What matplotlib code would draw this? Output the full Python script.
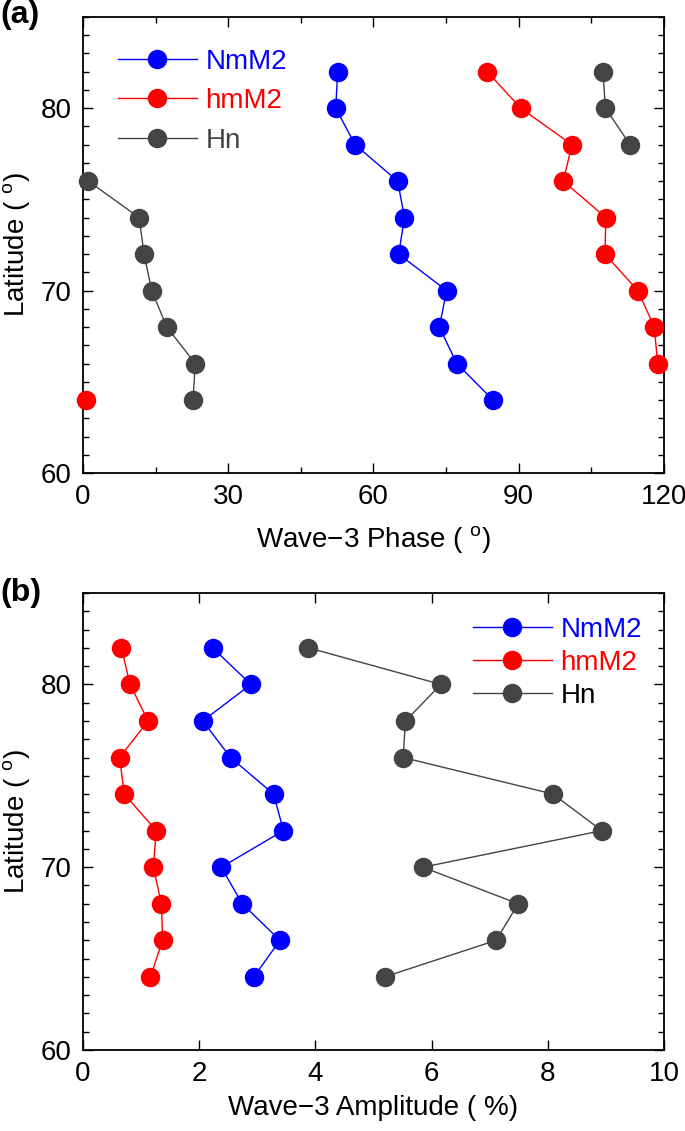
import numpy as np
import matplotlib
matplotlib.use("Agg")
import matplotlib.pyplot as plt
from matplotlib.ticker import MultipleLocator

plt.rcParams['font.family'] = ['Liberation Sans', 'DejaVu Sans']
plt.rcParams['mathtext.fontset'] = 'custom'
plt.rcParams['mathtext.rm'] = 'Liberation Sans'

lat = [64, 66, 68, 70, 72, 74, 76, 78, 80, 82]

# Panel (a): wave-3 phase (deg)
phase_nmm2 = [84.7, 77.2, 73.6, 75.1, 65.2, 66.4, 65.0, 56.2, 52.2, 52.6]
phase_hmm2 = [0.7, 118.7, 118.0, 114.6, 107.8, 108.0, 99.2, 101.0, 90.4, 83.5]
phase_hn = [22.7, 23.2, 17.3, 14.2, 12.6, 11.6, 1.1, 113.0, 107.9, 107.4]

# Panel (b): wave-3 amplitude (%)
amp_nmm2 = [2.94, 3.39, 2.74, 2.38, 3.45, 3.28, 2.54, 2.06, 2.89, 2.23]
amp_hmm2 = [1.16, 1.37, 1.35, 1.21, 1.26, 0.71, 0.63, 1.12, 0.81, 0.66]
amp_hn = [5.19, 7.11, 7.49, 5.85, 8.93, 8.09, 5.51, 5.55, 6.16, 3.88]

series_names = ['NmM2', 'hmM2', 'Hn']
colors = ['#0000ff', '#ff0000', '#444444']

FS = 20


def break_wrap(x, y, thresh=60):
    xs, ys = [x[0]], [y[0]]
    for i in range(1, len(x)):
        if abs(x[i] - x[i - 1]) > thresh:
            xs.append(np.nan)
            ys.append(np.nan)
        xs.append(x[i])
        ys.append(y[i])
    return xs, ys


fig = plt.figure(figsize=(6.85, 11.31), dpi=100)
axa = fig.add_axes([0.1212, 0.5818, 0.8481, 0.4032])
axb = fig.add_axes([0.1212, 0.0716, 0.8481, 0.4041])

for ax, data, wrap in [(axa, [phase_nmm2, phase_hmm2, phase_hn], True),
                       (axb, [amp_nmm2, amp_hmm2, amp_hn], False)]:
    for vals, name, c in zip(data, series_names, colors):
        if wrap:
            xs, ys = break_wrap(vals, lat)
        else:
            xs, ys = vals, lat
        ax.plot(xs, ys, '-o', color=c, lw=1.0, ms=13, mec=c, label=name,
                clip_on=False, zorder=3)
    ax.set_ylim(60, 85)
    ax.yaxis.set_major_locator(MultipleLocator(10))
    ax.yaxis.set_minor_locator(MultipleLocator(1))
    ax.tick_params(which='both', direction='in', top=True, right=True,
                   labelsize=FS, width=1.0)
    ax.tick_params(which='major', length=7, pad=8)
    ax.tick_params(which='minor', length=4)
    for s in ax.spines.values():
        s.set_linewidth(1.3)
    ax.set_ylabel('Latitude ( $^{\\mathrm{o}}$)', fontsize=FS, labelpad=6)

axa.set_xlim(0, 120)
axa.xaxis.set_major_locator(MultipleLocator(30))
axa.xaxis.set_minor_locator(MultipleLocator(15))
axa.set_xlabel('Wave\u22123 Phase ( $^{\\mathrm{o}}$)', fontsize=FS, labelpad=10)

axb.set_xlim(0, 10)
axb.xaxis.set_major_locator(MultipleLocator(2))
axb.set_xlabel('Wave\u22123 Amplitude ( %)', fontsize=FS, labelpad=6)

lega = axa.legend(loc='upper left', bbox_to_anchor=(0.06, 0.93), frameon=False,
                  fontsize=FS, handlelength=2.85, handletextpad=0.3,
                  labelspacing=0.48, borderaxespad=0, borderpad=0)
for t, c in zip(lega.get_texts(), colors):
    t.set_color(c)

legb = axb.legend(loc='upper right', bbox_to_anchor=(0.962, 0.947), frameon=False,
                  fontsize=FS, handlelength=2.85, handletextpad=0.3,
                  labelspacing=0.24, borderaxespad=0, borderpad=0)
for t, c in zip(legb.get_texts(), ['#0000ff', '#ff0000', '#000000']):
    t.set_color(c)

fig.text(0.0, 1.0, '(a)', fontsize=23, fontweight='bold', va='top', ha='left')
fig.text(0.0, 0.489, '(b)', fontsize=23, fontweight='bold', va='top', ha='left')

fig.savefig('out.png', dpi=100)
